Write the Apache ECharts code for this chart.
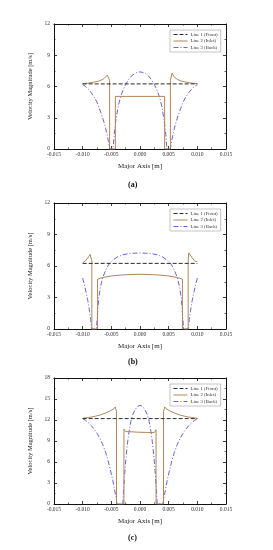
<!DOCTYPE html>
<html>
<head>
<meta charset="utf-8">
<script src="https://cdn.jsdelivr.net/npm/echarts@6/dist/echarts.min.js"></script>
<style>
html,body{margin:0;padding:0;background:#fff;}
#chart{width:273px;height:550px;}
</style>
</head>
<body>
<div id="chart"></div>
<script>
// ---------- data ----------
var seriesNames = ['Line 1 (Front)', 'Line 2 (Inlet)', 'Line 3 (Back)'];
var panelLabels = ['(a)', '(b)', '(c)'];
var xTicks = [-0.015, -0.010, -0.005, 0.000, 0.005, 0.010, 0.015];
var xTickLabels = ['-0.015', '-0.010', '-0.005', '0.000', '0.005', '0.010', '0.015'];
var yTicksAB = [0, 3, 6, 9, 12];
var yTicksC = [0, 3, 6, 9, 12, 15, 18];
var xAxisTitle = 'Major Axis [m]';
var yAxisTitle = 'Velocity Magnitude [m/s]';

// (a)
var aFront = [[-0.010, 6.25], [0.010, 6.25]];
var aInlet = [[-0.0100, 6.28], [-0.0090, 6.33], [-0.0080, 6.42], [-0.0072, 6.52], [-0.0066, 6.65], [-0.0062, 6.8], [-0.0059, 6.95], [-0.0057, 7.1], [-0.0056, 7.28], [-0.0053, 6.6], [-0.0053, 0], [-0.0043, 0], [-0.0043, 5.05], [0.0043, 5.05], [0.0043, 0], [0.0053, 0], [0.0053, 6.6], [0.0056, 7.28], [0.0057, 7.1], [0.0059, 6.95], [0.0062, 6.8], [0.0066, 6.65], [0.0072, 6.52], [0.0080, 6.42], [0.0090, 6.33], [0.0100, 6.28]];
var aBack = [[-0.0100, 6.2], [-0.0095, 6.0], [-0.0090, 5.75], [-0.0085, 5.4], [-0.0080, 5.0], [-0.0075, 4.5], [-0.0071, 3.9], [-0.0067, 3.3], [-0.0063, 2.6], [-0.0060, 2.0], [-0.0057, 1.3], [-0.0055, 0.7], [-0.0053, 0], [-0.0047, 0], [-0.0045, 1.4], [-0.0042, 2.8], [-0.0038, 4.1], [-0.0034, 5.0], [-0.0030, 5.6], [-0.0025, 6.2], [-0.0020, 6.65], [-0.0015, 7.0], [-0.0010, 7.22], [-0.0005, 7.35], [0, 7.4], [0.0005, 7.35], [0.0010, 7.22], [0.0015, 7.0], [0.0020, 6.65], [0.0025, 6.2], [0.0030, 5.6], [0.0034, 5.0], [0.0038, 4.1], [0.0042, 2.8], [0.0045, 1.4], [0.0047, 0], [0.0053, 0], [0.0055, 0.7], [0.0057, 1.3], [0.0060, 2.0], [0.0063, 2.6], [0.0067, 3.3], [0.0071, 3.9], [0.0075, 4.5], [0.0080, 5.0], [0.0085, 5.4], [0.0090, 5.75], [0.0095, 6.0], [0.0100, 6.2]];

// (b)
var bFront = [[-0.010, 6.25], [0.010, 6.25]];
var bInlet = [[-0.0100, 6.3], [-0.0095, 6.5], [-0.0090, 6.85], [-0.0087, 7.1], [-0.0085, 7.25], [-0.0084, 6.5], [-0.0084, 0], [-0.0074, 0], [-0.0074, 4.75], [-0.0065, 4.9], [-0.0050, 5.05], [-0.0030, 5.15], [0, 5.22], [0.0030, 5.15], [0.0050, 5.05], [0.0065, 4.9], [0.0074, 4.75], [0.0074, 0], [0.0084, 0], [0.0084, 6.5], [0.0085, 7.25], [0.0087, 7.1], [0.0090, 6.85], [0.0095, 6.5], [0.0100, 6.4]];
var bBack = [[-0.0100, 4.85], [-0.0097, 4.2], [-0.0094, 3.5], [-0.0091, 2.7], [-0.0088, 1.7], [-0.0086, 0.9], [-0.0084, 0], [-0.0076, 0], [-0.0074, 1.6], [-0.0072, 2.9], [-0.0069, 4.0], [-0.0065, 4.9], [-0.0060, 5.6], [-0.0055, 6.1], [-0.0049, 6.5], [-0.0040, 6.85], [-0.0031, 7.05], [-0.0020, 7.18], [-0.0010, 7.22], [0, 7.24], [0.0010, 7.22], [0.0020, 7.18], [0.0031, 7.05], [0.0040, 6.85], [0.0049, 6.5], [0.0055, 6.1], [0.0060, 5.6], [0.0065, 4.9], [0.0069, 4.0], [0.0072, 2.9], [0.0074, 1.6], [0.0076, 0], [0.0084, 0], [0.0086, 0.9], [0.0088, 1.7], [0.0091, 2.7], [0.0094, 3.5], [0.0097, 4.2], [0.0100, 4.85]];

// (c)
var cFront = [[-0.010, 12.2], [0.010, 12.2]];
var cInlet = [[-0.0100, 12.25], [-0.0090, 12.35], [-0.0080, 12.5], [-0.0070, 12.7], [-0.0060, 13.0], [-0.0052, 13.3], [-0.0047, 13.55], [-0.0043, 13.85], [-0.0041, 13.2], [-0.0041, 0], [-0.0028, 0], [-0.0028, 10.7], [-0.0025, 10.35], [0, 10.25], [0.0025, 10.2], [0.0028, 10.6], [0.0028, 0], [0.0041, 0], [0.0041, 13.2], [0.0043, 13.85], [0.0047, 13.55], [0.0052, 13.3], [0.0060, 13.0], [0.0070, 12.7], [0.0080, 12.5], [0.0090, 12.35], [0.0100, 12.25]];
var cBack = [[-0.0100, 12.2], [-0.0095, 11.95], [-0.0090, 11.6], [-0.0085, 11.2], [-0.0080, 10.7], [-0.0075, 10.1], [-0.0070, 9.4], [-0.0065, 8.5], [-0.0060, 7.4], [-0.0056, 6.3], [-0.0052, 5.0], [-0.0048, 3.6], [-0.0045, 2.3], [-0.0042, 1.0], [-0.0040, 0], [-0.0030, 0], [-0.0029, 1.5], [-0.0027, 4.0], [-0.0025, 6.0], [-0.0023, 7.8], [-0.0021, 9.2], [-0.0019, 10.4], [-0.0016, 11.8], [-0.0013, 12.7], [-0.0009, 13.4], [-0.0005, 13.9], [0, 14.1], [0.0005, 13.9], [0.0009, 13.4], [0.0013, 12.7], [0.0016, 11.8], [0.0019, 10.4], [0.0021, 9.2], [0.0023, 7.8], [0.0025, 6.0], [0.0027, 4.0], [0.0029, 1.5], [0.0030, 0], [0.0040, 0], [0.0042, 1.0], [0.0045, 2.3], [0.0048, 3.6], [0.0052, 5.0], [0.0056, 6.3], [0.0060, 7.4], [0.0065, 8.5], [0.0070, 9.4], [0.0075, 10.1], [0.0080, 10.7], [0.0085, 11.2], [0.0090, 11.6], [0.0095, 11.95], [0.0100, 12.2]];

// ---------- styling / layout ----------
var FONT = '"Liberation Serif", "DejaVu Serif", serif';
var colors = ['#2a2a2a', '#b08659', '#6b63d6'];
var lineTypes = [[4, 2], 'solid', [5, 2, 1, 2]];
var panels = [
  {front: aFront, inlet: aInlet, back: aBack, yTicks: yTicksAB, top: 24, height: 125, labelY: 186, legendTop: 30},
  {front: bFront, inlet: bInlet, back: bBack, yTicks: yTicksAB, top: 203, height: 126, labelY: 363, legendTop: 209},
  {front: cFront, inlet: cInlet, back: cBack, yTicks: yTicksC, top: 378, height: 126, labelY: 539, legendTop: 384}
];

function xFmt(v) {
  for (var i = 0; i < xTicks.length; i++) {
    if (Math.abs(xTicks[i] - v) < 1e-9) return xTickLabels[i];
  }
  return '';
}

var grids = [], xAxes = [], yAxes = [], series = [], legends = [], graphics = [];
var axisLineStyle = {color: '#111', width: 1};
panels.forEach(function (p, i) {
  grids.push({left: 54, width: 172, top: p.top, height: p.height, containLabel: false});
  var yMax = p.yTicks[p.yTicks.length - 1];
  var yInt = p.yTicks[1] - p.yTicks[0];
  var xBase = {
    type: 'value', gridIndex: i, min: xTicks[0], max: xTicks[xTicks.length - 1], interval: 0.005,
    axisLine: {show: true, onZero: false, lineStyle: axisLineStyle},
    axisTick: {show: true, inside: true, length: 3, lineStyle: {color: '#111', width: 0.8}},
    minorTick: {show: true, splitNumber: 2, length: 1.6, lineStyle: {color: '#111', width: 0.6}},
    splitLine: {show: false}
  };
  xAxes.push(Object.assign({}, xBase, {
    position: 'bottom',
    axisLabel: {show: true, margin: 3, fontSize: 5.5, color: '#333', fontFamily: FONT, formatter: xFmt},
    name: xAxisTitle, nameLocation: 'middle', nameGap: 14,
    nameTextStyle: {fontSize: 7, color: '#222', fontFamily: FONT}
  }));
  var yBase = {
    type: 'value', gridIndex: i, min: 0, max: yMax, interval: yInt,
    axisLine: {show: true, onZero: false, lineStyle: axisLineStyle},
    axisTick: {show: true, inside: true, length: 3, lineStyle: {color: '#111', width: 0.8}},
    minorTick: {show: true, splitNumber: 2, length: 1.6, lineStyle: {color: '#111', width: 0.6}},
    splitLine: {show: false}
  };
  yAxes.push(Object.assign({}, yBase, {
    position: 'left',
    axisLabel: {show: true, margin: 4, fontSize: 5.5, color: '#333', fontFamily: FONT},
    name: yAxisTitle, nameLocation: 'middle', nameGap: 15,
    nameTextStyle: {fontSize: 6.5, color: '#222', fontFamily: FONT}
  }));
  var data = [p.front, p.inlet, p.back];
  data.forEach(function (d, k) {
    series.push({
      type: 'line', name: seriesNames[k], xAxisIndex: i, yAxisIndex: i,
      data: d, symbol: 'none', smooth: false, silent: true, animation: false,
      lineStyle: {color: colors[k], width: 1, type: lineTypes[k]},
      itemStyle: {color: colors[k]}, z: 3 - k + 2
    });
  });
  legends.push({
    show: true, orient: 'vertical', left: 170, top: p.legendTop,
    data: seriesNames, itemWidth: 14, itemHeight: 5, itemGap: 1.5,
    padding: [2, 3, 2, 3], borderColor: '#888', borderWidth: 0.5, backgroundColor: '#fff',
    selectedMode: false,
    itemStyle: {opacity: 0},
    lineStyle: {width: 1},
    textStyle: {fontSize: 4.8, color: '#333', fontFamily: FONT, padding: [0, 0, 0, -2]}
  });
  graphics.push({
    type: 'text', left: 128, top: p.labelY - 5,
    style: {text: panelLabels[i], font: 'bold 8px ' + FONT, fill: '#111'}
  });
});
// mirror axes (top & right) for box frame
panels.forEach(function (p, i) {
  var yMax = p.yTicks[p.yTicks.length - 1];
  var yInt = p.yTicks[1] - p.yTicks[0];
  xAxes.push({
    type: 'value', gridIndex: i, position: 'top', min: xTicks[0], max: xTicks[xTicks.length - 1], interval: 0.005,
    axisLine: {show: true, onZero: false, lineStyle: axisLineStyle},
    axisTick: {show: true, inside: true, length: 3, lineStyle: {color: '#111', width: 0.8}},
    minorTick: {show: true, splitNumber: 2, length: 1.6, lineStyle: {color: '#111', width: 0.6}},
    axisLabel: {show: false}, splitLine: {show: false}
  });
  yAxes.push({
    type: 'value', gridIndex: i, position: 'right', min: 0, max: yMax, interval: yInt,
    axisLine: {show: true, onZero: false, lineStyle: axisLineStyle},
    axisTick: {show: true, inside: true, length: 3, lineStyle: {color: '#111', width: 0.8}},
    minorTick: {show: true, splitNumber: 2, length: 1.6, lineStyle: {color: '#111', width: 0.6}},
    axisLabel: {show: false}, splitLine: {show: false}
  });
});

var chart = echarts.init(document.getElementById('chart'), null, {renderer: 'canvas'});
chart.setOption({
  backgroundColor: '#ffffff',
  animation: false,
  grid: grids,
  xAxis: xAxes,
  yAxis: yAxes,
  legend: legends,
  series: series,
  graphic: graphics
});
</script>
</body>
</html>
